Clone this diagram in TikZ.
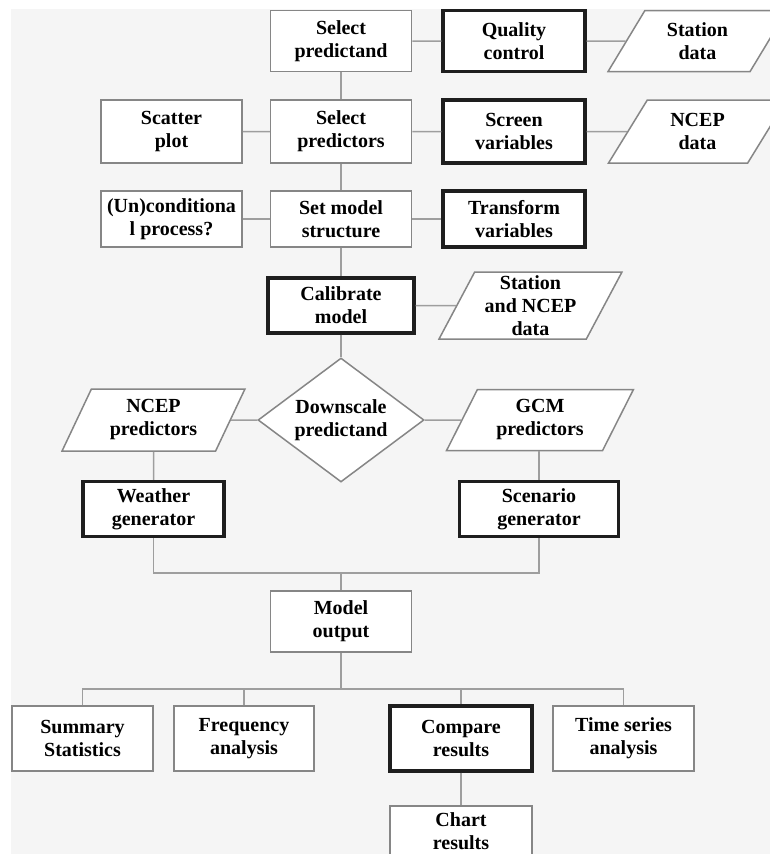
\documentclass[tikz,border=0pt]{standalone}
\usepackage{fontspec}
\setmainfont{Liberation Serif}
\usetikzlibrary{shapes.geometric}
\definecolor{bggray}{HTML}{F5F5F5}
\definecolor{boxgray}{HTML}{868686}
\definecolor{linegray}{HTML}{9E9E9E}
\definecolor{keyblack}{HTML}{1E1E1E}

\begin{document}
\begin{tikzpicture}[x=1pt,y=-1pt,
                        every node/.style={font=\fontsize{20}{23}\selectfont\bfseries,align=center,text=black},
                        procbox/.style={draw=boxgray,fill=white,line width=1.5pt,inner sep=0pt,
                        minimum width=141pt,minimum height=61pt},
                        keybox/.style={procbox,draw=keyblack,line width=3.2pt},
                        databox/.style={trapezium,trapezium stretches=true,draw=boxgray,fill=white,
                        line width=1.5pt,inner sep=0pt,trapezium left angle=62,trapezium right angle=118},
                        decide/.style={diamond,draw=boxgray,fill=white,line width=1.5pt,inner sep=0pt,
                        minimum width=166pt,minimum height=124pt,aspect=1.34},
                        conn/.style={draw=linegray,line width=1.5pt}
                        ]
                        % page and grey panel
                        \fill[white] (0,0) rectangle (770,854);
                        \fill[bggray] (11,9) rectangle (770,854);
                        \useasboundingbox (0,0) rectangle (770,854);

                        % row 1
                        \node[procbox] (pred) at (341,41) {Select\\predictand};
                        \node[keybox,minimum width=142pt] (qual) at (514,41) {Quality\\control};
                        \node[databox,trapezium left angle=60,trapezium right angle=120,
                              minimum width=179pt,minimum height=61pt] (stdata) at (697.5,41) {Station\\data};
                        % row 2
                        \node[procbox,minimum height=63pt] (scat) at (171.5,131.5) {Scatter\\plot};
                        \node[procbox,minimum height=63pt] (preds) at (341,131.5) {Select\\predictors};
                        \node[keybox,minimum width=142pt,minimum height=63pt] (screen) at (514,131.5) {Screen\\variables};
                        \node[databox,trapezium left angle=60,trapezium right angle=120,
                              minimum width=179pt,minimum height=63pt] (ncdata) at (697.5,131.5) {NCEP\\data};
                        % row 3
                        \node[procbox,minimum height=56pt] (uncond) at (171.5,219) {(Un)conditiona\\l process?};
                        \node[procbox,minimum height=56pt] (struct) at (341,219) {Set model\\structure};
                        \node[keybox,minimum width=142pt,minimum height=56pt] (trans) at (514,219) {Transform\\variables};

                        % calibration
                        \node[keybox,minimum width=146pt,minimum height=55pt] (calib) at (341,305.5) {Calibrate\\model};
                        \node[databox,trapezium left angle=64,trapezium right angle=116,
                              minimum width=183pt,minimum height=67pt] (stncdata) at (530.5,305.5) {Station\\and NCEP\\data};

                        % downscaling
                        \node[decide] (down) at (341,420) {Downscale\\predictand};
                        \node[databox,trapezium left angle=63,trapezium right angle=117,
                              minimum width=183pt,minimum height=62pt] (ncpred) at (153.5,420) {NCEP\\predictors};
                        \node[databox,minimum width=187pt,minimum height=61pt] (gcmpred) at (540,420) {GCM\\predictors};
                        \node[keybox,minimum height=55pt] (weath) at (153.5,509) {Weather\\generator};
                        \node[keybox,minimum width=159pt,minimum height=55pt] (scen) at (539,509) {Scenario\\generator};

                        % output and analysis
                        \node[procbox,minimum height=61pt] (output) at (341,621.5) {Model\\output};
                        \node[procbox,minimum height=65pt] (summ) at (82.5,738.5) {Summary\\Statistics};
                        \node[procbox,minimum width=140pt,minimum height=65pt] (freq) at (244,738.5) {Frequency\\analysis};
                        \node[keybox,minimum width=142pt,minimum height=65pt] (comp) at (461,738.5) {Compare\\results};
                        \node[procbox,minimum height=65pt] (tser) at (623.5,738.5) {Time series\\analysis};
                        \node[procbox,minimum width=142pt,minimum height=50pt] (chart) at (461,831) {Chart\\results};

                        % connectors
                        \draw[conn] (pred) -- (qual) -- (stdata);
                        \draw[conn] (scat) -- (preds) -- (screen) -- (ncdata);
                        \draw[conn] (uncond) -- (struct) -- (trans);
                        \draw[conn] (pred) -- (preds) -- (struct) -- (calib) -- (down);
                        \draw[conn] (calib) -- (stncdata);
                        \draw[conn] (ncpred) -- (down) -- (gcmpred);
                        \draw[conn] (ncpred) -- (weath);
                        \draw[conn] (gcmpred.south -| scen.north) -- (scen.north);
                        \coordinate (join) at (341,573);
                        \draw[conn] (weath.south) |- (join) -| (scen.south);
                        \draw[conn] (join) -- (output.north);
                        \draw[conn] (output.south) -- ++(0,36) coordinate (split);
                        \draw[conn] (summ.north) |- (split) -| (tser.north);
                        \draw[conn] (freq.north) -- (freq.north |- split);
                        \draw[conn] (comp.north) -- (comp.north |- split);
                        \draw[conn] (comp) -- (chart);
                \end{tikzpicture}
\end{document}
